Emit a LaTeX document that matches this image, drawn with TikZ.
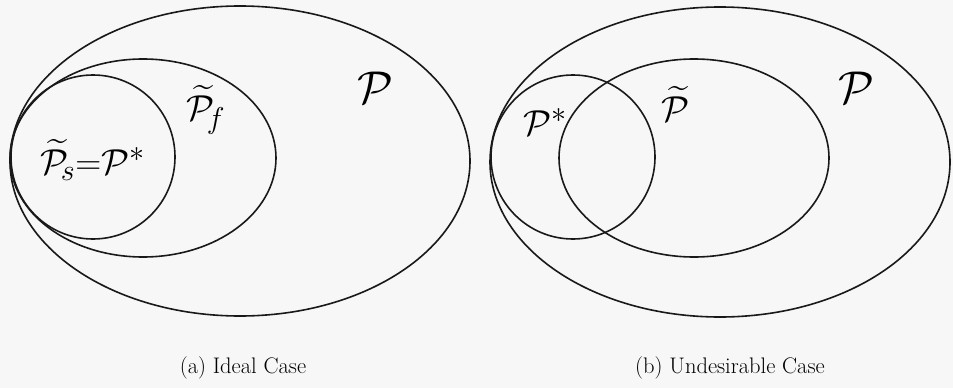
\documentclass[tikz,border=0pt]{standalone}
\usepackage{graphicx}
\usepackage{amsmath,amssymb}
\newcommand{\mylarge}[1]{\scalebox{1.85}{\Huge$#1$}}
\newcommand{\mymid}[1]{\scalebox{1.45}{\Huge$#1$}}
\begin{document}
\begin{tikzpicture}[x=1pt,y=-1pt,
  ring/.style={draw=black!90, line width=1.6pt},
  lab/.style={inner sep=0pt},
  captext/.style={inner sep=0pt, font=\fontsize{22.5}{26}\selectfont}]
\useasboundingbox (0,0) rectangle (953,388);
\fill[black!3] (0,0) rectangle (953,388);
% (a) ideal case
\draw[ring] (240,161) ellipse [x radius=230, y radius=155];
\draw[ring] (143,158) ellipse [x radius=133, y radius=99];
\draw[ring] (93,157) circle [radius=82];
\node[lab] (Pa) at (375,88) {\mylarge{\mathcal{P}}};
\node[lab] (Pfa) at (206,110) {\mymid{\widetilde{\mathcal{P}}_{\!f}}};
\node[lab] (Psa) at (93,160) {\mymid{\widetilde{\mathcal{P}}_{\!s}{=}\mathcal{P}^{*}}};
\node[captext] (capa) at (243,368) {(a) Ideal Case};
% (b) undesirable case
\draw[ring] (720,162) ellipse [x radius=230, y radius=155];
\draw[ring] (694,158) ellipse [x radius=135, y radius=99];
\draw[ring] (573,157) circle [radius=82];
\node[lab] (Pb) at (856,88) {\mylarge{\mathcal{P}}};
\node[lab] (Ptb) at (676,104) {\mymid{\widetilde{\mathcal{P}}}};
\node[lab] (Psb) at (545,122) {\mymid{\mathcal{P}^{*}}};
\node[captext] (capb) at (730,368) {(b) Undesirable Case};
\end{tikzpicture}
\end{document}
